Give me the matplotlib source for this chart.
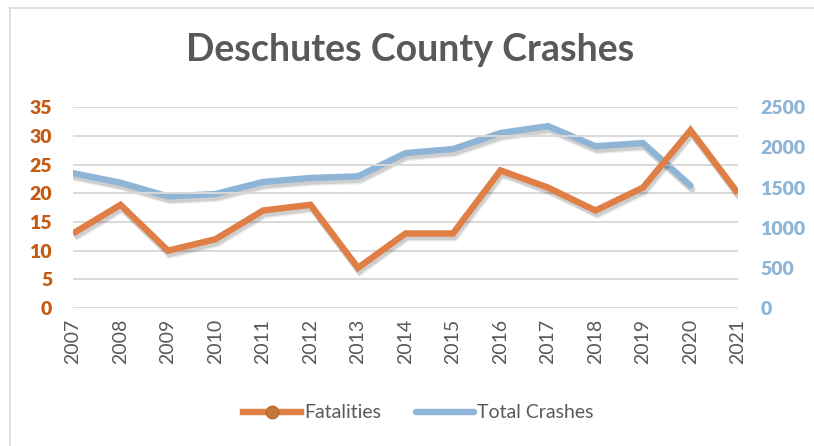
import matplotlib.pyplot as plt
import matplotlib.patheffects as pe
from matplotlib.lines import Line2D

# Data
years = list(range(2007, 2022))
fatalities = [13, 18, 10, 12, 17, 18, 7, 13, 13, 24, 21, 17, 21, 31, 20]
crash_years = list(range(2007, 2021))
total_crashes = [1680, 1560, 1390, 1420, 1570, 1620, 1640, 1930, 1980, 2180, 2265, 2015, 2055, 1525]

left_ticks = [0, 5, 10, 15, 20, 25, 30, 35]
right_ticks = [0, 500, 1000, 1500, 2000, 2500]

ORANGE = '#DF7E45'
BLUE = '#8EB4D6'
ORANGE_TXT = '#C55A11'
GRAY = '#595959'
FONT = 'Lato'

W, H = 814, 446
fig = plt.figure(figsize=(W / 100, H / 100), dpi=100)

ax = fig.add_axes([73 / W, 1 - 308 / H, (738 - 73) / W, (308 - 107.3) / H])
ax2 = ax.twinx()

shadow = [pe.SimpleLineShadow(offset=(1, -2.5), shadow_color='black', alpha=0.13),
          pe.SimpleLineShadow(offset=(1.5, -3.5), shadow_color='black', alpha=0.07),
          pe.Normal()]

ax.plot(years, fatalities, color=ORANGE, lw=4.6, solid_capstyle='butt',
        solid_joinstyle='miter', path_effects=shadow, zorder=3)
ax2.plot(crash_years, total_crashes, color=BLUE, lw=4.6, solid_capstyle='round',
         solid_joinstyle='miter', path_effects=shadow, zorder=3)

ax.set_xlim(2007, 2021)
ax.set_ylim(0, 35)
ax2.set_ylim(0, 2500)
ax.set_yticks(left_ticks)
ax2.set_yticks(right_ticks)
ax.set_xticks(years)
ax.set_xticklabels([str(y) for y in years], rotation=90, fontsize=14,
                   color=GRAY, family=FONT)
ax.set_yticklabels([str(v) for v in left_ticks], fontsize=14, color=ORANGE_TXT,
                   family=FONT, fontweight='heavy')
ax2.set_yticklabels([str(v) for v in right_ticks], fontsize=14, color=BLUE,
                    family=FONT, fontweight='heavy')

ax.grid(axis='y', color='#D9D9D9', lw=1.4)
ax.set_axisbelow(True)
ax.tick_params(axis='both', length=0)
ax.tick_params(axis='y', pad=15)
ax.tick_params(axis='x', pad=8)
ax2.tick_params(axis='y', length=0, pad=16)
for a in (ax, ax2):
    for s in a.spines.values():
        s.set_visible(False)
ax.set_zorder(ax2.get_zorder() + 1)
ax.patch.set_visible(False)

fig.text(410 / W, 1 - 50 / H, 'Deschutes County Crashes', ha='center', va='center',
         fontsize=27, fontweight='bold', color=GRAY, family=FONT)

# chart frame (top and left edges only)
fig.add_artist(Line2D([10 / W, 1], [1 - 8 / H, 1 - 8 / H], color='#D9D9D9', lw=1.2))
fig.add_artist(Line2D([10 / W, 10 / W], [0, 1 - 8 / H], color='#D9D9D9', lw=1.2))

handles = [
    Line2D([], [], color=ORANGE, lw=4.6, marker='o', markersize=9,
           markerfacecolor='#C8773A', markeredgecolor='#B86A30'),
    Line2D([], [], color=BLUE, lw=4.6, solid_capstyle='round'),
]
fig.legend(handles, ['Fatalities', 'Total Crashes'], loc='center',
           bbox_to_anchor=(418 / W, 1 - 413 / H), ncol=2, frameon=False,
           handlelength=3.0, columnspacing=1.8, handletextpad=0.15,
           prop={'family': FONT, 'size': 14}, labelcolor=GRAY)

fig.savefig('out.png', dpi=100)
